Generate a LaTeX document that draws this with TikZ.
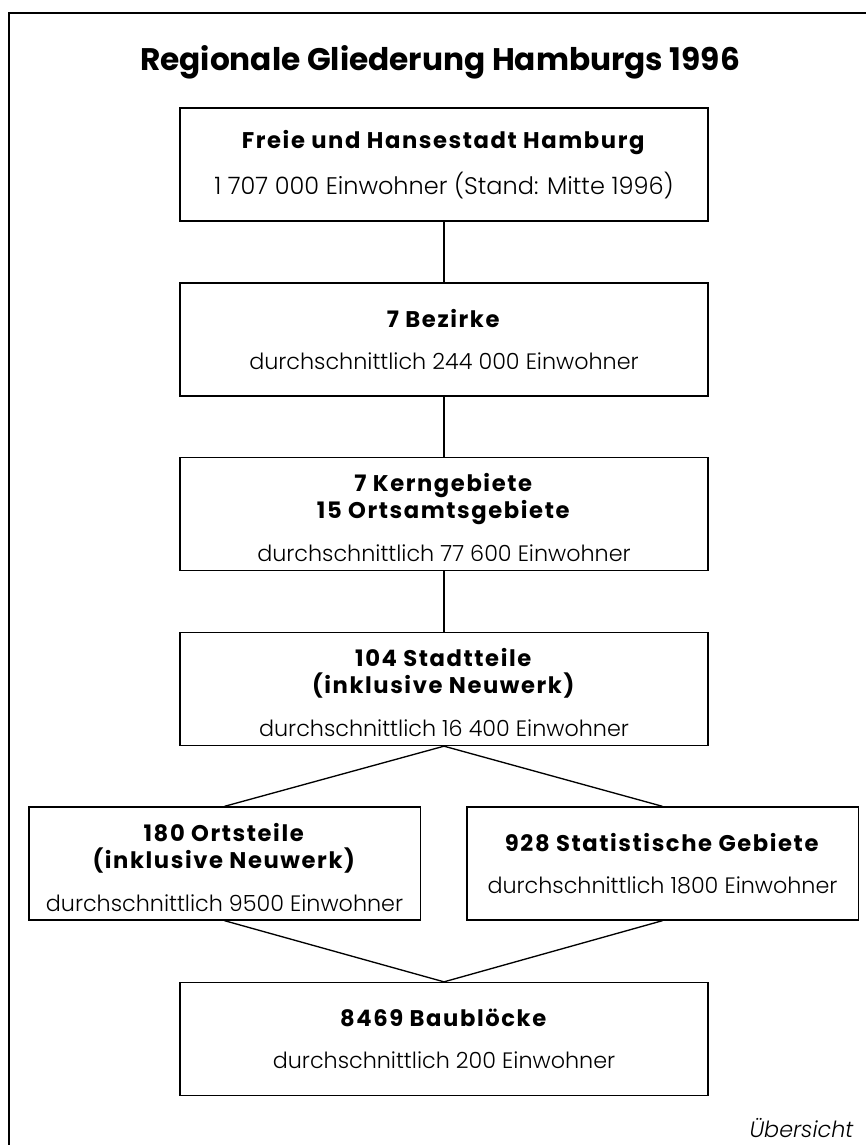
\documentclass[tikz,border=0pt]{standalone}
\usepackage{fontspec}
\setmainfont{Poppins}[UprightFont=* Light, ItalicFont=* Light Italic, BoldFont=* Bold]
\newcommand\hd[1]{\textbf{\fontsize{17}{20.5}\selectfont\addfontfeatures{LetterSpace=7}#1}}
\newcommand\lowhd{\rule{0pt}{19pt}}

\begin{document}
\begin{tikzpicture}[x=0.75pt, y=-0.75pt,
  box/.style={draw, line width=1pt, inner sep=0pt, align=center,
    minimum width=396pt, minimum height=84.75pt,
    font=\fontsize{16.7}{20.5}\selectfont},
  halfbox/.style={box, minimum width=293.5pt},
  link/.style={line width=1pt}]
  \useasboundingbox (0,0) rectangle (866,1145);
  % Coordinates
  \coordinate (T) at (440, 62);
  \coordinate (A) at (444, 164.5);
  \coordinate (B) at (444, 339.5);
  \coordinate (C) at (444, 514);
  \coordinate (D) at (444, 689);
  \coordinate (E) at (224.5, 863.5);
  \coordinate (F) at (662.5, 863.5);
  \coordinate (G) at (444, 1039);
  \coordinate (U) at (858, 1128);

  % Drawing
  \draw[line width=1.2pt] (9,13) rectangle (900,1180);
  \node[font=\fontsize{23.4}{26}\selectfont\bfseries] (title) at (T) {Regionale Gliederung Hamburgs 1996};
  \node[box] (stadt) at (A) {\hd{Freie und Hansestadt Hamburg}\\[11.5pt]{\fontsize{18}{20.5}\selectfont 1 707 000 Einwohner (Stand: Mitte 1996)}};
  \node[box] (bezirke) at (B) {\hd{7 Bezirke}\\[11.5pt]durchschnittlich 244 000 Einwohner};
  \node[box] (kern) at (C) {\lowhd\hd{7 Kerngebiete}\\\hd{15 Ortsamtsgebiete}\\[11.5pt]durchschnittlich 77 600 Einwohner};
  \node[box] (teile) at (D) {\lowhd\hd{104 Stadtteile}\\\hd{(inklusive Neuwerk)}\\[11.5pt]durchschnittlich 16 400 Einwohner};
  \node[halfbox] (orts) at (E) {\lowhd\hd{180 Ortsteile}\\\hd{(inklusive Neuwerk)}\\[11.5pt]durchschnittlich 9500 Einwohner};
  \node[halfbox] (stat) at (F) {\hd{928 Statistische Gebiete}\\[11.5pt]durchschnittlich 1800 Einwohner};
  \node[box] (block) at (G) {\hd{8469 Baublöcke}\\[11.5pt]durchschnittlich 200 Einwohner};
  \node[anchor=east, font=\fontsize{16.7}{18}\selectfont\itshape] (note) at (U) {Übersicht};

  \draw[link] (stadt) -- (bezirke);
  \draw[link] (bezirke) -- (kern);
  \draw[link] (kern) -- (teile);
  \draw[link] (teile.south) -- (orts.north);
  \draw[link] (teile.south) -- (stat.north);
  \draw[link] (orts.south) -- (block.north);
  \draw[link] (stat.south) -- (block.north);
\end{tikzpicture}
\end{document}
